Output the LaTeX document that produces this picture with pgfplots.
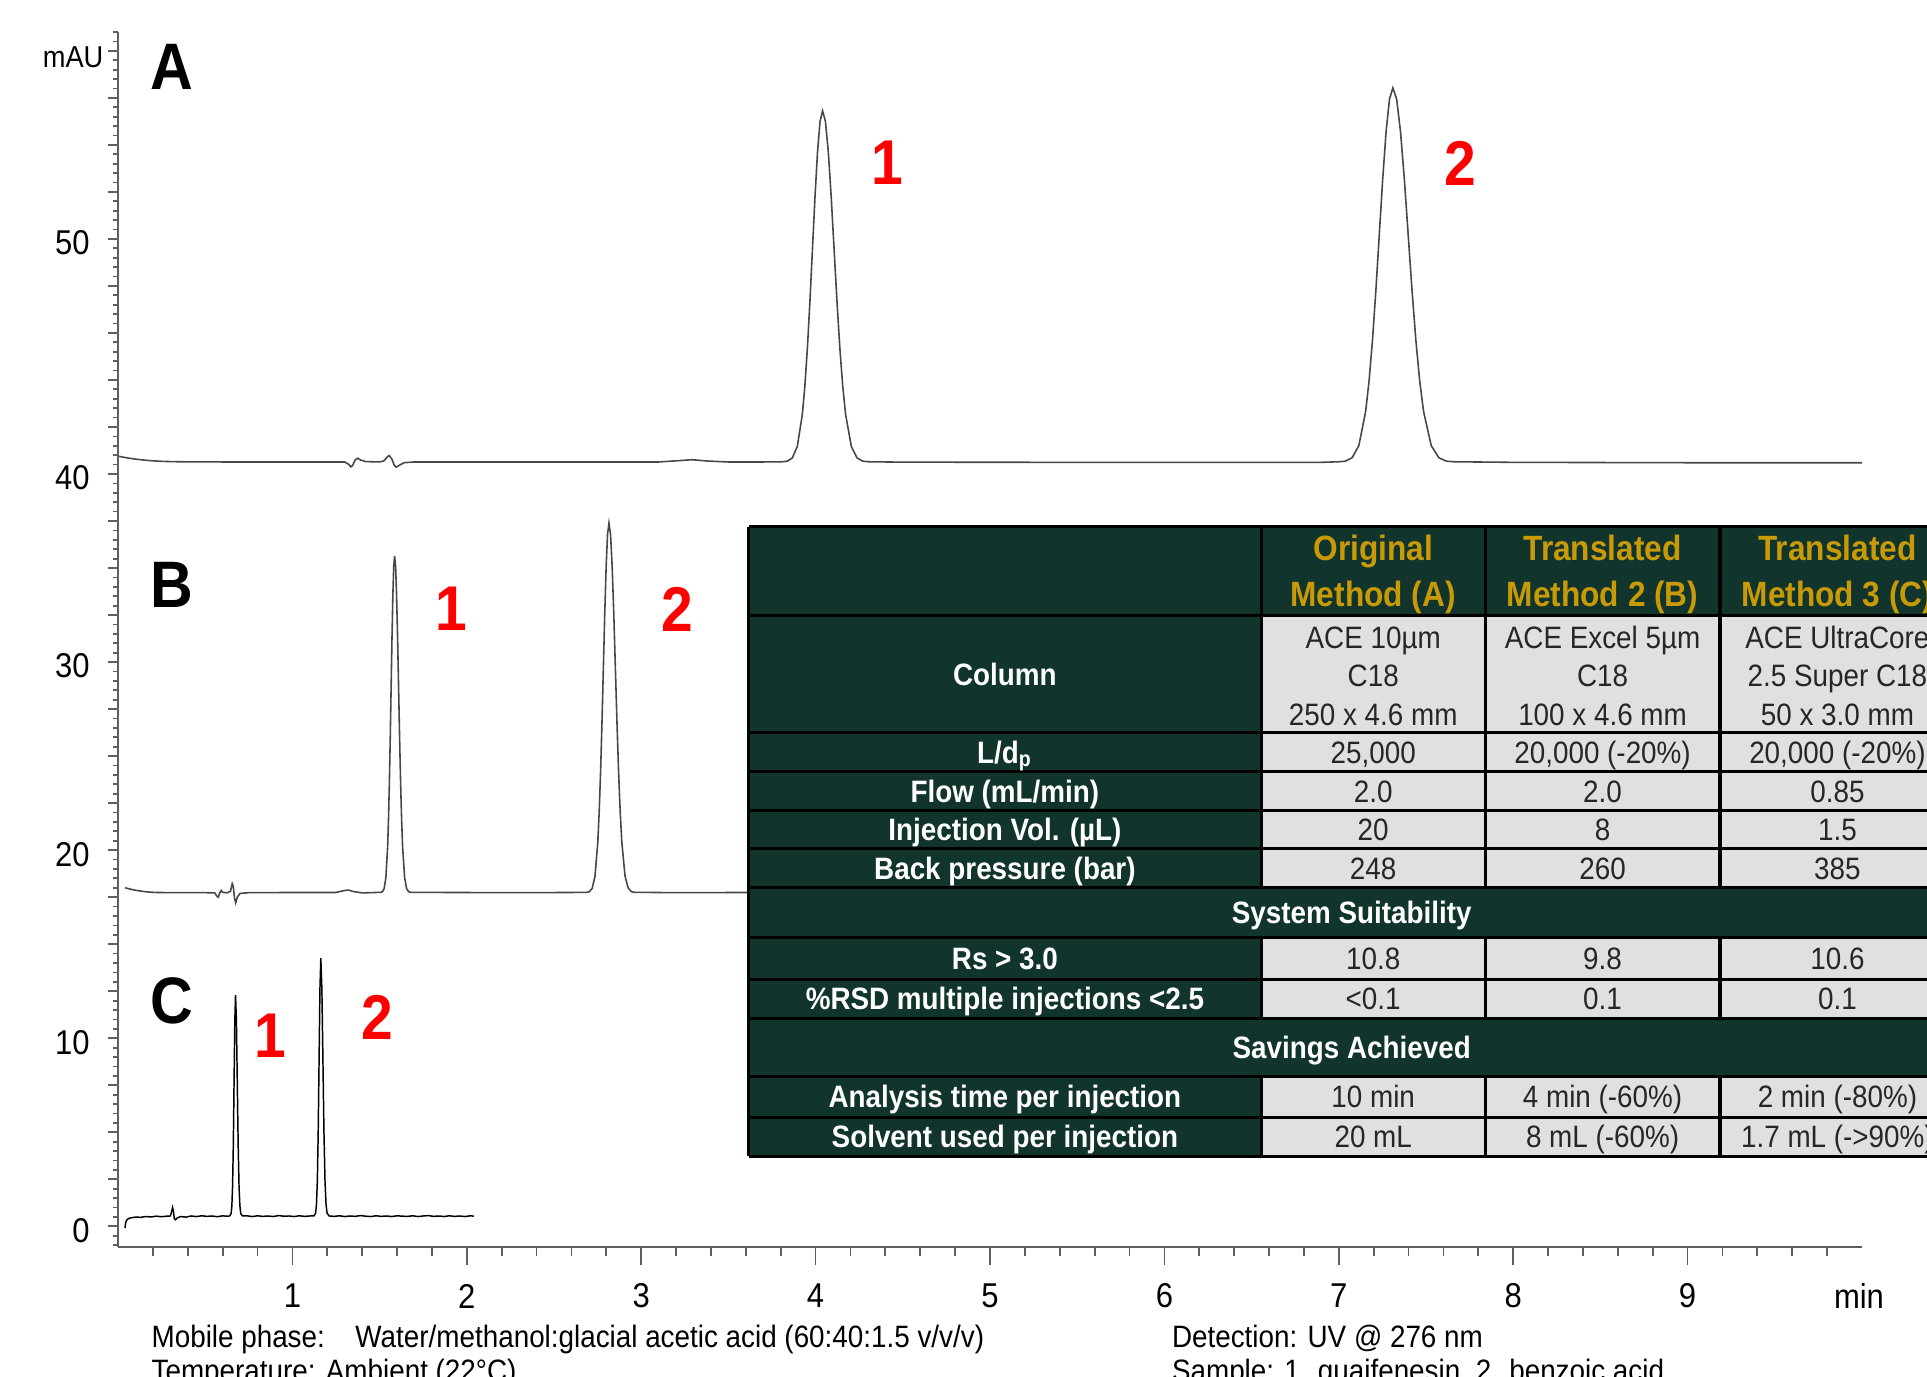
\documentclass[border=0pt]{standalone}
\usepackage{fontspec}
\setmainfont{Liberation Sans}[FakeStretch=0.9]
\usepackage{pgfplots}
\pgfplotsset{compat=1.18}
\definecolor{tgreen}{RGB}{17,52,44}
\definecolor{tgray}{RGB}{224,224,224}
\definecolor{tgold}{RGB}{200,154,8}
\definecolor{axgray}{RGB}{95,95,95}
\begin{document}
\begin{tikzpicture}
\useasboundingbox (0,0) rectangle (19.27,-13.76);
\fill[white] (0,0) rectangle (19.27,-13.76);
\clip (0,0) rectangle (19.27,-13.76);

% ---------- main axis (x axis, traces) ----------
\begin{axis}[at={(1.18cm,-12.47cm)}, anchor=south west, scale only axis,
  width=17.44cm, height=12.15cm,
  xmin=0, xmax=10, ymin=-1.1, ymax=63.5,
  axis x line=bottom, axis y line=left,
  axis line style={-, axgray, line width=0.7pt},
  xtick={1,2,3,4,5,6,7,8,9}, xticklabels={1,2,3,4,5,6,7,8,9},
  minor xtick={0.2,0.4,...,9.8},
  ytick=\empty,
  tick align=outside,
  major tick length=0.18cm, minor tick length=0.09cm,
  tick style={axgray, line width=0.5pt},
  /pgf/number format/assume math mode=true,
  tick label style={font=\fontsize{9.8}{10}\selectfont},
  xticklabel style={anchor=center, yshift=-0.31cm},
  clip=false]
% Trace A
\addplot[black!72, line width=0.45pt] coordinates {
(0,40.95) (0.05,40.86) (0.10,40.79) (0.15,40.74) (0.20,40.70) (0.26,40.67) (0.35,40.65) (0.6,40.64) (1.0,40.64) (1.30,40.64)
(1.325,40.50) (1.335,40.38) (1.345,40.45) (1.36,40.75) (1.375,40.84) (1.39,40.75) (1.42,40.66) (1.50,40.64)
(1.525,40.70) (1.545,40.92) (1.555,40.98) (1.57,40.80) (1.585,40.45) (1.595,40.36) (1.61,40.45) (1.64,40.60) (1.70,40.64)
(2.5,40.64) (3.10,40.64) (3.20,40.70) (3.29,40.76) (3.38,40.69) (3.50,40.64) (3.70,40.64)
(3.808,40.65) (3.837,40.68) (3.866,40.85) (3.895,41.46) (3.924,43.17) (3.9385,44.68) (3.953,46.70) (3.9675,49.19) (3.982,51.96) (3.9965,54.73) (4.011,57.12) (4.0255,58.74) (4.04,59.31)
(4.0565,58.74) (4.073,57.12) (4.0895,54.73) (4.106,51.96) (4.1225,49.19) (4.139,46.70) (4.1555,44.68) (4.172,43.17) (4.205,41.46) (4.238,40.85) (4.271,40.68) (4.304,40.65)
(4.5,40.63) (5.5,40.62) (6.5,40.62) (6.9,40.62)
(6.998,40.65) (7.037,40.68) (7.076,40.86) (7.115,41.51) (7.154,43.33) (7.1735,44.94) (7.193,47.10) (7.2125,49.75) (7.232,52.70) (7.2515,55.65) (7.271,58.19) (7.2905,59.92) (7.31,60.53)
(7.332,59.92) (7.354,58.19) (7.376,55.65) (7.398,52.70) (7.42,49.75) (7.442,47.10) (7.464,44.94) (7.486,43.33) (7.53,41.51) (7.574,40.86) (7.618,40.68) (7.662,40.65)
(8.0,40.62) (9.0,40.60) (10.0,40.60)};
% Trace B
\addplot[black!72, line width=0.45pt] coordinates {
(0.04,18.00) (0.07,17.93) (0.10,17.87) (0.14,17.81) (0.18,17.77) (0.22,17.75) (0.35,17.74) (0.50,17.74) (0.555,17.73)
(0.567,17.55) (0.575,17.50) (0.583,17.72) (0.592,17.86) (0.600,17.76) (0.625,17.73) (0.645,17.82) (0.655,18.22) (0.661,18.08) (0.668,17.45) (0.675,17.20) (0.684,17.50) (0.70,17.70) (0.75,17.74)
(1.0,17.75) (1.25,17.75) (1.29,17.84) (1.32,17.88) (1.35,17.80) (1.40,17.73) (1.45,17.74)
(1.506,17.76) (1.516,17.79) (1.526,17.95) (1.536,18.54) (1.546,20.17) (1.551,21.62) (1.556,23.56) (1.561,25.94) (1.566,28.60) (1.571,31.25) (1.576,33.54) (1.581,35.09) (1.586,35.64)
(1.5918,35.09) (1.5975,33.54) (1.6033,31.25) (1.609,28.60) (1.6148,25.94) (1.6205,23.56) (1.6263,21.62) (1.632,20.17) (1.6435,18.54) (1.655,17.95) (1.6665,17.79) (1.678,17.76)
(1.9,17.75) (2.3,17.74) (2.6,17.75)
(2.687,17.76) (2.703,17.79) (2.719,17.97) (2.735,18.61) (2.751,20.41) (2.759,22.00) (2.767,24.13) (2.775,26.74) (2.783,29.66) (2.791,32.57) (2.799,35.08) (2.807,36.79) (2.815,37.39)
(2.8243,36.79) (2.8335,35.08) (2.8428,32.57) (2.852,29.66) (2.8613,26.74) (2.8705,24.13) (2.8798,22.00) (2.889,20.41) (2.9075,18.61) (2.926,17.97) (2.9445,17.79) (2.963,17.76)
(3.2,17.74) (3.6,17.75) (4.0,17.75)};
% Trace C
\addplot[black, line width=0.42pt] coordinates {
(0.040,-0.10) (0.043,0.15) (0.048,0.30) (0.055,0.38) (0.065,0.43) (0.08,0.46) (0.10,0.49) (0.13,0.48) (0.16,0.52) (0.19,0.50) (0.22,0.54) (0.25,0.51) (0.28,0.54)
(0.300,0.55) (0.307,0.75) (0.313,1.00) (0.318,0.80) (0.323,0.40) (0.330,0.35) (0.34,0.45) (0.36,0.52) (0.39,0.49) (0.42,0.55) (0.45,0.52) (0.48,0.56) (0.51,0.53) (0.54,0.55) (0.57,0.51) (0.60,0.56) (0.62,0.54)
(0.640,0.55) (0.6485,0.68) (0.6528,1.07) (0.657,2.14) (0.6613,4.36) (0.6655,7.67) (0.6698,10.91) (0.674,12.29) (0.679,10.91) (0.684,7.67) (0.689,4.36) (0.694,2.14) (0.699,1.07) (0.704,0.68) (0.714,0.55)
(0.74,0.56) (0.77,0.52) (0.80,0.56) (0.83,0.53) (0.86,0.55) (0.89,0.52) (0.92,0.57) (0.95,0.54) (0.98,0.55) (1.01,0.52) (1.04,0.56) (1.07,0.53) (1.10,0.55)
(1.123,0.55) (1.133,0.70) (1.138,1.15) (1.143,2.40) (1.148,5.00) (1.153,8.87) (1.158,12.65) (1.163,14.26) (1.169,12.65) (1.175,8.87) (1.181,5.00) (1.187,2.40) (1.193,1.15) (1.199,0.70) (1.211,0.55)
(1.24,0.53) (1.27,0.56) (1.30,0.52) (1.33,0.55) (1.36,0.53) (1.39,0.57) (1.42,0.54) (1.45,0.52) (1.48,0.56) (1.51,0.53) (1.54,0.55) (1.57,0.52) (1.60,0.56) (1.63,0.54) (1.66,0.53) (1.69,0.56)
(1.72,0.52) (1.75,0.55) (1.78,0.57) (1.81,0.53) (1.84,0.55) (1.87,0.52) (1.90,0.56) (1.93,0.53) (1.96,0.55) (1.99,0.52) (2.02,0.56) (2.04,0.54)};
% panel letters
\node[font=\fontsize{18.7}{19}\selectfont\bfseries] at (axis cs:0.31,61.65) {A};
\node[font=\fontsize{18.7}{19}\selectfont\bfseries] at (axis cs:0.31,34.10) {B};
\node[font=\fontsize{18.7}{19}\selectfont\bfseries] at (axis cs:0.31,11.97) {C};
% peak numbers
\tikzset{pk/.style={font=\fontsize{18}{18}\selectfont\bfseries, text=red}}
\node[pk] at (axis cs:4.41,56.54) {1};
\node[pk] at (axis cs:7.695,56.54) {2};
\node[pk] at (axis cs:1.91,32.82) {1};
\node[pk] at (axis cs:3.205,32.82) {2};
\node[pk] at (axis cs:0.872,10.11) {1};
\node[pk] at (axis cs:1.485,11.12) {2};
\end{axis}

% ---------- y axis ----------
\begin{axis}[at={(1.18cm,-12.47cm)}, anchor=south west, scale only axis,
  width=17.44cm, height=12.15cm,
  xmin=0, xmax=10, ymin=-1.1, ymax=63.5,
  axis x line=none, axis y line=left,
  axis line style={-, axgray, line width=0.7pt},
  xtick=\empty,
  ytick={0,10,20,30,40,52.5}, yticklabels={0,10,20,30,40,50},
  extra y ticks={2.5,5,7.5,12.5,15,17.5,22.5,25,27.5,32.5,35,37.5,42.5,45,47.5,50,55,57.5,60,62.5},
  extra y tick labels={},
  minor ytick={-1,-0.5,...,63.5},
  tick align=outside,
  major tick length=0.10cm, minor tick length=0.05cm,
  tick style={axgray, line width=0.5pt},
  extra tick style={tick style={axgray, line width=0.5pt}},
  tick label style={font=\fontsize{9.8}{10}\selectfont},
  yticklabel style={xshift=-0.06cm, yshift=-0.04cm}]
\end{axis}

\node[anchor=east, inner sep=0pt, font=\fontsize{8.6}{9}\selectfont] at (1.04,-0.57) {mAU};
\node[inner sep=0pt, font=\fontsize{9.8}{10}\selectfont] at (18.59,-12.96) {min};

% ---------- table & footnote (pixel coordinates) ----------
\begin{scope}[x=0.01cm, y=-0.01cm]
\fill[tgreen] (749,527) rectangle (1956,1157);
\foreach \a/\b in {616/733,733/772,772/811,811/849,849/888,938/980,980/1019,1077/1118,1118/1157}
  {\fill[tgray] (1262,\a) rectangle (1956,\b);}
\foreach \y in {527,616,733,772,811,849,888,938,980,1019,1077,1118,1157}
  {\draw[black, line width=0.9pt] (749,\y) -- (1956,\y);}
\draw[black, line width=0.9pt] (749,527) -- (749,1157);
\foreach \x in {1262,1486,1721}{
  \draw[black, line width=0.9pt] (\x,527) -- (\x,888);
  \draw[black, line width=0.9pt] (\x,938) -- (\x,1019);
  \draw[black, line width=0.9pt] (\x,1077) -- (\x,1157);}
\tikzset{lab/.style={font=\fontsize{8.8}{9}\selectfont\bfseries, text=white, anchor=base, inner sep=0pt},
         hdr/.style={font=\fontsize{10}{10}\selectfont\bfseries, text=tgold, anchor=base, inner sep=0pt},
         val/.style={font=\fontsize{8.8}{9}\selectfont, text=black!85, anchor=base, inner sep=0pt}}
% header
\node[hdr] at (1374,561) {Original};
\node[hdr] at (1374,607) {Method (A)};
\node[hdr] at (1603.5,561) {Translated};
\node[hdr] at (1603.5,607) {Method 2 (B)};
\node[hdr] at (1838.5,561) {Translated};
\node[hdr] at (1838.5,607) {Method 3 (C)};
% column
\node[lab] at (1005.5,685.5) {Column};
\node[val] at (1374,649) {ACE 10µm};
\node[val] at (1374,687) {C18};
\node[val] at (1374,726) {250 x 4.6 mm};
\node[val] at (1603.5,649) {ACE Excel 5µm};
\node[val] at (1603.5,687) {C18};
\node[val] at (1603.5,726) {100 x 4.6 mm};
\node[val] at (1838.5,649) {ACE UltraCore};
\node[val] at (1838.5,687) {2.5 Super C18};
\node[val] at (1838.5,726) {50 x 3.0 mm};
% rows
\node[lab] at (1005.5,763.5) {L/d\textsubscript{p}};
\node[val] at (1374,763.5) {25,000};
\node[val] at (1603.5,763.5) {20,000 (-20\%)};
\node[val] at (1838.5,763.5) {20,000 (-20\%)};
\node[lab] at (1005.5,802.5) {Flow (mL/min)};
\node[val] at (1374,802.5) {2.0};
\node[val] at (1603.5,802.5) {2.0};
\node[val] at (1838.5,802.5) {0.85};
\node[lab] at (1005.5,841) {Injection Vol. (µL)};
\node[val] at (1374,841) {20};
\node[val] at (1603.5,841) {8};
\node[val] at (1838.5,841) {1.5};
\node[lab] at (1005.5,879.5) {Back pressure (bar)};
\node[val] at (1374,879.5) {248};
\node[val] at (1603.5,879.5) {260};
\node[val] at (1838.5,879.5) {385};
\node[lab] at (1352.5,924) {System Suitability};
\node[lab] at (1005.5,970) {Rs > 3.0};
\node[val] at (1374,970) {10.8};
\node[val] at (1603.5,970) {9.8};
\node[val] at (1838.5,970) {10.6};
\node[lab] at (1005.5,1010.5) {\%RSD multiple injections <2.5};
\node[val] at (1374,1010.5) {<0.1};
\node[val] at (1603.5,1010.5) {0.1};
\node[val] at (1838.5,1010.5) {0.1};
\node[lab] at (1352.5,1059) {Savings Achieved};
\node[lab] at (1005.5,1108.5) {Analysis time per injection};
\node[val] at (1374,1108.5) {10 min};
\node[val] at (1603.5,1108.5) {4 min (-60\%)};
\node[val] at (1838.5,1108.5) {2 min (-80\%)};
\node[lab] at (1005.5,1148.5) {Solvent used per injection};
\node[val] at (1374,1148.5) {20 mL};
\node[val] at (1603.5,1148.5) {8 mL (-60\%)};
\node[val] at (1838.5,1148.5) {1.7 mL (->90\%)};
% footnote
\tikzset{fn/.style={font=\fontsize{8.8}{9}\selectfont, anchor=base west, inner sep=0pt}}
\node[fn] at (151,1348) {Mobile phase:};
\node[fn] at (355,1348) {Water/methanol:glacial acetic acid (60:40:1.5 v/v/v)};
\node[fn] at (1172,1348) {Detection: UV @ 276 nm};
\node[fn] at (151,1382) {Temperature: Ambient (22°C)};
\node[fn] at (1172,1382) {Sample: 1. guaifenesin, 2. benzoic acid};
\end{scope}
\end{tikzpicture}
\end{document}
